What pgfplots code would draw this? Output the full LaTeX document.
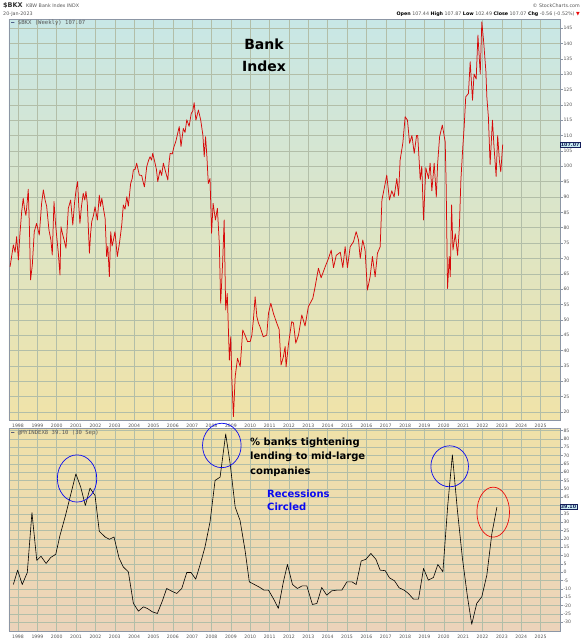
\documentclass[border=0pt]{standalone}
\usepackage{fontspec}
\setmainfont{DejaVu Sans}
\newfontfamily\monof{DejaVu Sans Mono}
\usepackage{pgfplots}
\pgfplotsset{compat=1.18}
\definecolor{gridc}{RGB}{178,190,168}
\definecolor{axc}{RGB}{140,150,165}
\definecolor{tickc}{RGB}{85,85,85}
\definecolor{pricec}{RGB}{215,10,10}
\definecolor{boxc}{RGB}{200,236,240}
\definecolor{navy}{RGB}{20,30,90}
\definecolor{bluec}{RGB}{10,10,240}
\definecolor{redc}{RGB}{235,10,10}

\pgfplotstableread{
yr val
1997.59 67.3
1997.68 71
1997.76 74.4
1997.85 72
1997.93 77.1
1998.02 69.5
1998.10 78
1998.19 85.2
1998.27 89.6
1998.34 86
1998.41 84
1998.47 88
1998.53 92.5
1998.59 80
1998.65 63
1998.74 67.9
1998.84 78.7
1998.96 81.4
1999.10 77.6
1999.22 87.9
1999.31 92.3
1999.40 89
1999.48 87
1999.60 79.2
1999.70 76
1999.77 71.1
1999.86 88.5
1999.93 82
2000.00 77.1
2000.08 72
2000.17 64.6
2000.22 80.3
2000.30 78
2000.38 76
2000.48 73.3
2000.60 86.3
2000.72 89
2000.83 80.9
2000.92 88
2001.00 92.3
2001.08 95
2001.14 87
2001.20 81.4
2001.28 87
2001.37 91.2
2001.45 89
2001.51 91.8
2001.58 88
2001.69 71.7
2001.75 78
2001.81 82
2001.90 84
2001.98 86.8
2002.10 82.5
2002.20 90.6
2002.26 87
2002.33 89.6
2002.42 86
2002.50 83.1
2002.58 70.6
2002.64 74
2002.72 64.1
2002.79 78.7
2002.86 74
2002.93 76
2003.01 78.7
2003.13 70.6
2003.24 74.9
2003.36 80.9
2003.44 87.4
2003.53 86
2003.62 90.1
2003.70 87
2003.82 94.4
2003.90 96
2003.96 98.8
2004.05 99
2004.13 101
2004.20 99
2004.27 97.1
2004.39 97
2004.46 95
2004.53 93.3
2004.60 97
2004.65 99.9
2004.75 102
2004.82 103.1
2004.90 102
2004.96 104.2
2005.08 101
2005.15 99
2005.22 95
2005.34 98.8
2005.42 97
2005.51 101
2005.60 98.8
2005.74 95.5
2005.80 101
2005.86 104.2
2005.97 104
2006.06 106.4
2006.15 108
2006.23 110.2
2006.33 112.9
2006.42 106.4
2006.54 112.3
2006.63 111
2006.72 115.1
2006.84 113
2006.95 117.2
2007.03 118
2007.10 120.7
2007.19 115
2007.32 118.3
2007.44 115
2007.55 110.2
2007.62 103.1
2007.69 109.6
2007.76 103
2007.83 94.4
2007.92 96
2008.00 78.2
2008.08 87.9
2008.20 82.5
2008.30 86.3
2008.40 74.9
2008.47 55.4
2008.57 68.4
2008.65 82.5
2008.73 53.2
2008.81 58.6
2008.92 36.9
2008.99 44.5
2009.05 30.4
2009.13 18.5
2009.22 31.5
2009.34 37.5
2009.48 34.8
2009.61 46.7
2009.73 45
2009.86 42.9
2010.00 43
2010.08 45
2010.16 50
2010.25 57.5
2010.34 51
2010.42 49
2010.50 47.8
2010.67 44.5
2010.85 45
2010.94 52.1
2011.06 55.4
2011.20 52
2011.37 48.9
2011.49 46.9
2011.59 35.3
2011.71 38
2011.80 41.3
2011.85 34.7
2011.97 42
2012.14 49.4
2012.23 49
2012.35 42.4
2012.49 45
2012.66 51.6
2012.83 48
2013.00 54.3
2013.23 57
2013.35 60.8
2013.52 66.8
2013.66 63.7
2013.87 67.3
2014.04 70
2014.18 72.7
2014.30 67
2014.44 71
2014.65 72
2014.78 67
2014.90 73.8
2015.02 67
2015.16 73.8
2015.33 75.4
2015.47 78.7
2015.59 76
2015.68 70
2015.81 76
2015.93 72.7
2016.05 59.7
2016.19 64
2016.31 70.6
2016.45 64
2016.57 71.7
2016.71 73.8
2016.80 89
2016.92 92.8
2017.05 97.1
2017.19 89
2017.31 92
2017.43 90
2017.57 96
2017.66 90.5
2017.74 102
2017.88 107.5
2018.00 116.1
2018.12 115
2018.23 107.5
2018.35 110
2018.47 104.2
2018.59 110
2018.65 110
2018.78 95.5
2018.86 100
2018.95 82.5
2019.07 99.5
2019.21 96
2019.29 101
2019.38 92
2019.50 101
2019.61 90
2019.68 101
2019.78 109.6
2019.92 113.4
2020.07 107.9
2020.12 93.3
2020.19 60.2
2020.28 70.6
2020.33 64
2020.40 87.4
2020.47 72.7
2020.59 78
2020.71 71
2020.80 80
2020.88 95.5
2020.98 106.4
2021.05 112.9
2021.13 122.6
2021.27 123.7
2021.36 134
2021.48 121.5
2021.56 130
2021.67 128.4
2021.76 142.7
2021.88 130
2021.96 147
2022.05 141
2022.17 131
2022.22 122.6
2022.30 116
2022.39 100.6
2022.51 115
2022.59 106.4
2022.70 96.7
2022.78 110
2022.87 101.7
2022.94 98.2
2023.04 107.07
}\bkx

\pgfplotstableread{
yr val
1997.76 -7.3
1997.98 1.3
1998.22 -7.3
1998.48 -0.1
1998.72 35.8
1998.97 7.2
1999.19 9.6
1999.45 5.3
1999.69 8.9
1999.95 10.8
2000.17 22.2
2000.43 33.1
2000.69 45.1
2000.99 59.1
2001.24 51.1
2001.48 40.1
2001.72 50.5
2001.98 46.1
2002.20 24.6
2002.50 21.2
2002.72 19.8
2002.96 21.2
2003.22 8.6
2003.44 3.2
2003.70 0.3
2003.96 -18.6
2004.22 -23.3
2004.48 -20.7
2004.70 -21.8
2004.94 -23.7
2005.20 -24.7
2005.46 -17.1
2005.68 -9.7
2005.94 -11.3
2006.20 -12.7
2006.46 -9.7
2006.72 -0.1
2006.94 -0.1
2007.18 -4.1
2007.40 4.3
2007.66 15.2
2007.92 30.2
2008.18 55.1
2008.44 57.1
2008.73 83
2008.96 65.1
2009.22 39.1
2009.47 31.2
2009.73 13.2
2009.95 -5.7
2010.21 -7.3
2010.47 -8.9
2010.71 -10.7
2010.94 -10.7
2011.19 -15.7
2011.45 -21.6
2011.71 -5.7
2011.92 4.7
2012.18 -7.3
2012.43 -9.7
2012.69 -8.1
2012.92 -8.1
2013.21 -19.3
2013.44 -18.7
2013.69 -9.1
2013.95 -13.7
2014.21 -11.1
2014.47 -10.7
2014.73 -10.7
2014.99 -5.7
2015.25 -5.7
2015.47 -7.3
2015.73 6.8
2015.97 7.8
2016.23 11.3
2016.49 7.8
2016.71 1.3
2016.97 1.0
2017.19 -3.3
2017.45 -5.1
2017.69 -9.3
2017.95 -10.7
2018.17 -12.7
2018.43 -16.1
2018.69 -16.1
2018.95 2.3
2019.20 -4.7
2019.46 -3.1
2019.69 4.7
2019.95 0.3
2020.20 40.1
2020.44 70.5
2020.70 37.2
2020.96 8.3
2021.22 -14.7
2021.44 -31.2
2021.70 -18.6
2021.96 -14.7
2022.22 -1.7
2022.48 23.2
2022.74 39.1
}\myindex

\pgfplotsset{
  panel/.style={
    scale only axis, width=551pt,
    xmin=1997.535, xmax=2026.0,
    xtick={1998,1999,...,2025},
    clip=false,
    axis line style={draw=axc, line width=0.4pt},
    grid=major,
    major grid style={draw=gridc, line width=0.45pt},
    xtick style={draw=none},
    ytick style={draw=axc, line width=0.4pt},
    major tick length=2.5pt,
    tick align=outside,
    ytick pos=right,
    xtick pos=bottom,
    ticklabel style={font=\fontsize{4.6}{5}\selectfont, text=tickc},
    xticklabel style={inner sep=0pt, anchor=north, yshift=-1pt},
    yticklabel style={inner sep=0.8pt, anchor=west},
    /pgf/number format/assume math mode=true,
    /pgf/number format/1000 sep={},
  }
}

\begin{document}
\begin{tikzpicture}
\path[use as bounding box] (0pt,0pt) rectangle (582pt,640pt);

% top panel
\begin{axis}[panel,
  at={(9pt,620.5pt)}, anchor=north west,
  height=400.5pt,
  ymin=17.4, ymax=147.77,
  ytick={20,25,...,145},
  axis background/.style={top color={rgb,255:red,200;green,231;blue,230}, middle color={rgb,255:red,232;green,230;blue,186}, bottom color={rgb,255:red,240;green,227;blue,168}},
]
\addplot[pricec, line width=0.75pt, line join=round] table[x=yr, y=val] {\bkx};
\node[fill=boxc, draw=navy, line width=0.4pt, inner sep=0.7pt, anchor=west, text=navy,
  font=\fontsize{4.8}{5}\selectfont\bfseries] at (axis cs:2026.0,107.07) {107.07};
\end{axis}

% bottom panel
\begin{axis}[panel,
  at={(9pt,211.7pt)}, anchor=north west,
  height=202.7pt,
  ymin=-35.2, ymax=86.4,
  ytick={-30,-25,...,85},
  yticklabels={-30,-25,-20,-15,-10,-5,0,5,10,15,20,25,30,35,,45,50,55,60,65,70,75,80,85},
  axis background/.style={top color={rgb,255:red,239;green,225;blue,168}, bottom color={rgb,255:red,236;green,211;blue,186}},
]
\addplot[black, line width=0.6pt, line join=round] table[x=yr, y=val] {\myindex};
\draw[bluec, line width=0.7pt] (axis cs:2001.05,56.3) ellipse [x radius=19.7pt, y radius=23.6pt];
\draw[bluec, line width=0.7pt] (axis cs:2008.53,76.1) ellipse [x radius=19.3pt, y radius=22.2pt];
\draw[bluec, line width=0.7pt] (axis cs:2020.30,63.6) ellipse [x radius=18.8pt, y radius=20.5pt];
\draw[redc, line width=0.7pt] (axis cs:2022.55,36.1) ellipse [x radius=16.3pt, y radius=25pt];
\node[fill=boxc, draw=navy, line width=0.4pt, inner sep=0.7pt, anchor=west, text=navy,
  font=\fontsize{4.8}{5}\selectfont\bfseries] at (axis cs:2026.0,39.1) {39.10};
\end{axis}

% header texts
\node[anchor=base west, inner sep=0pt, font=\fontsize{6.5}{7}\selectfont\bfseries, text=black!80] at (3pt,632.5pt) {\$BKX};
\node[anchor=base west, inner sep=0pt, font=\fontsize{4.8}{5}\selectfont, text=tickc] at (26pt,632.5pt) {KBW Bank Index INDX};
\node[anchor=base west, inner sep=0pt, font=\fontsize{4.8}{5}\selectfont, text=tickc] at (3pt,624.2pt) {20-Jan-2023};
\node[anchor=base east, inner sep=0pt, font=\fontsize{4.8}{5}\selectfont, text=tickc] at (580pt,632.5pt) {© StockCharts.com};
\node[anchor=base east, inner sep=0pt, font=\fontsize{4.8}{5}\selectfont, text=tickc] at (580pt,624.2pt)
  {\textbf{\color{black}Open} 107.44 \textbf{\color{black}High} 107.87 \textbf{\color{black}Low} 102.49 \textbf{\color{black}Close} 107.07 \textbf{\color{black}Chg} -0.56 (-0.52\%) {\color{redc}▼}};
\node[anchor=base west, inner sep=0pt, font=\fontsize{5.6}{6}\selectfont\monof, text=tickc] at (11pt,615.3pt) {\textbf{\color{navy}–} \$BKX (Weekly) 107.07};
\node[anchor=base west, inner sep=0pt, font=\fontsize{5.6}{6}\selectfont\monof, text=tickc] at (11pt,205.3pt) {\textbf{\color{navy}–} @MYINDEX8 39.10 (30 Sep)};

% annotations
\node[anchor=base, inner sep=0pt, font=\fontsize{14}{14}\selectfont\bfseries] at (264pt,590.7pt) {Bank};
\node[anchor=base, inner sep=0pt, font=\fontsize{14}{14}\selectfont\bfseries] at (264pt,568.3pt) {Index};
\node[anchor=base west, inner sep=0pt, font=\fontsize{10}{10}\selectfont\bfseries] at (250pt,194.3pt) {\% banks tightening};
\node[anchor=base west, inner sep=0pt, font=\fontsize{10}{10}\selectfont\bfseries] at (250pt,180pt) {lending to mid-large};
\node[anchor=base west, inner sep=0pt, font=\fontsize{10}{10}\selectfont\bfseries] at (250pt,165.7pt) {companies};
\node[anchor=base west, inner sep=0pt, font=\fontsize{10}{10}\selectfont\bfseries, text=bluec] at (267pt,142.3pt) {Recessions};
\node[anchor=base west, inner sep=0pt, font=\fontsize{10}{10}\selectfont\bfseries, text=bluec] at (267pt,129pt) {Circled};
\end{tikzpicture}
\end{document}
